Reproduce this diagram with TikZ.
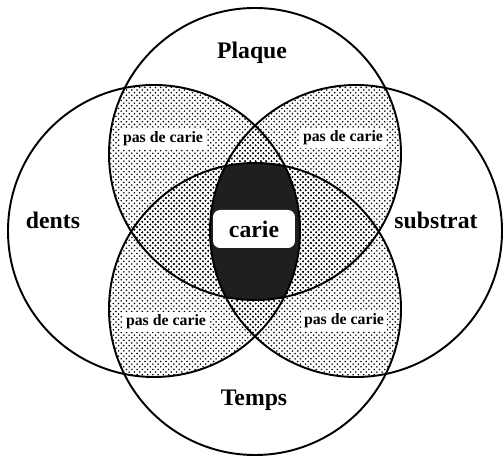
\documentclass[tikz,border=0pt]{standalone}
\usepackage{fontspec}
\setmainfont{Liberation Serif}
\usetikzlibrary{patterns}

\begin{document}
\begin{tikzpicture}[x=0.02cm, y=0.02cm,
        ring/.style={draw=black, line width=1.1pt},
        setname/.style={font=\fontsize{13.5}{15}\selectfont\bfseries},
        nocarie/.style={fill=white, inner sep=1.5pt, font=\fontsize{9}{11}\selectfont\bfseries}]
        \useasboundingbox (0,0) rectangle (503,459);
        \def\ringrad{146}
        % Centres of the four circles
        \coordinate (plaque) at (255,305);
        \coordinate (temps) at (255,150);
        \coordinate (dents) at (154,228);
        \coordinate (substrat) at (356,228);
        % Dotted overlaps of two circles or more
        \foreach \a/\b in {plaque/dents, plaque/substrat, temps/dents, temps/substrat, plaque/temps, dents/substrat}{
            \begin{scope}
                \clip (\a) circle[radius=\ringrad];
                \fill[pattern=crosshatch dots] (\b) circle[radius=\ringrad];
            \end{scope}
        }
        % Dark centre where all four meet
        \begin{scope}
            \clip (plaque) circle[radius=\ringrad];
            \clip (temps) circle[radius=\ringrad];
            \clip (dents) circle[radius=\ringrad];
            \fill[black!88] (substrat) circle[radius=\ringrad];
        \end{scope}
        % Draw the circles
        \foreach \c in {plaque, temps, dents, substrat}
            \draw[ring] (\c) circle[radius=\ringrad];
        % Set names
        \node[setname] (lplaque) at (252,406) {Plaque};
        \node[setname] (ldents) at (53,239) {dents};
        \node[setname] (lsubstrat) at (436,239) {substrat};
        \node[setname] (ltemps) at (254,59) {Temps};
        \node[setname, fill=white, rounded corners=4pt, minimum width=1.64cm, minimum height=0.76cm] (lcarie) at (254,230) {carie};
        % Two-by-two overlaps
        \node[nocarie] (ncplaquedents) at (163,320) {pas de carie};
        \node[nocarie] (ncplaquesubstrat) at (343,321) {pas de carie};
        \node[nocarie] (nctempsdents) at (166,137) {pas de carie};
        \node[nocarie] (nctempssubstrat) at (344,138) {pas de carie};
\end{tikzpicture}
\end{document}
